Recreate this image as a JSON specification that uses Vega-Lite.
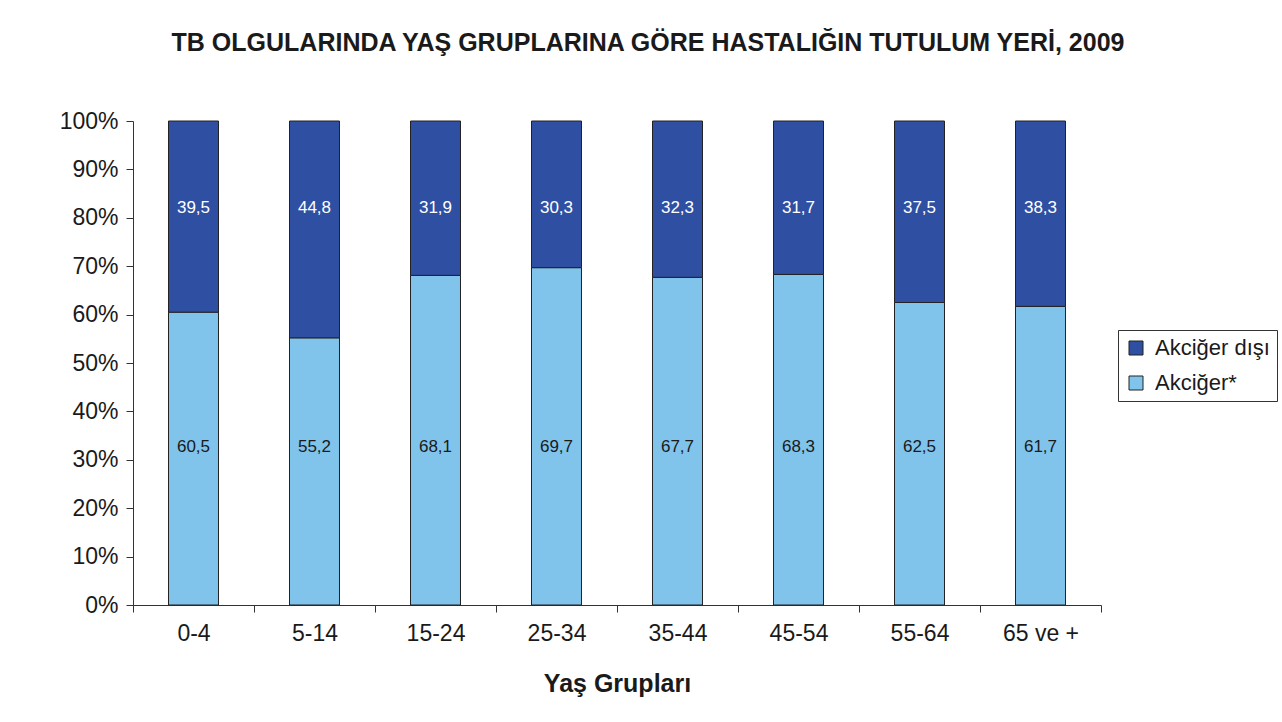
{
  "$schema": "https://vega.github.io/schema/vega-lite/v6.json",
  "autosize": "none",
  "width": 968,
  "height": 484,
  "padding": {"left": 133, "top": 121, "right": 181, "bottom": 117},
  "background": "white",
  "config": {
    "font": "Liberation Sans",
    "view": {"stroke": null},
    "locale": {"number": {"decimal": ",", "thousands": ".", "grouping": [3], "currency": ["", " TL"]}}
  },
  "title": {
    "text": "TB OLGULARINDA YAŞ GRUPLARINA GÖRE HASTALIĞIN TUTULUM YERİ, 2009",
    "font": "Liberation Sans",
    "fontSize": 25,
    "fontWeight": "bold",
    "color": "#1a1a1a",
    "anchor": "middle",
    "frame": "group",
    "dx": 31,
    "offset": 54
  },
  "data": {
    "values": [
      {"grup": "0-4", "tur": "Akciğer*", "deger": 60.5},
      {"grup": "0-4", "tur": "Akciğer dışı", "deger": 39.5},
      {"grup": "5-14", "tur": "Akciğer*", "deger": 55.2},
      {"grup": "5-14", "tur": "Akciğer dışı", "deger": 44.8},
      {"grup": "15-24", "tur": "Akciğer*", "deger": 68.1},
      {"grup": "15-24", "tur": "Akciğer dışı", "deger": 31.9},
      {"grup": "25-34", "tur": "Akciğer*", "deger": 69.7},
      {"grup": "25-34", "tur": "Akciğer dışı", "deger": 30.3},
      {"grup": "35-44", "tur": "Akciğer*", "deger": 67.7},
      {"grup": "35-44", "tur": "Akciğer dışı", "deger": 32.3},
      {"grup": "45-54", "tur": "Akciğer*", "deger": 68.3},
      {"grup": "45-54", "tur": "Akciğer dışı", "deger": 31.7},
      {"grup": "55-64", "tur": "Akciğer*", "deger": 62.5},
      {"grup": "55-64", "tur": "Akciğer dışı", "deger": 37.5},
      {"grup": "65 ve +", "tur": "Akciğer*", "deger": 61.7},
      {"grup": "65 ve +", "tur": "Akciğer dışı", "deger": 38.3}
    ]
  },
  "encoding": {
    "x": {
      "field": "grup",
      "type": "nominal",
      "sort": ["0-4", "5-14", "15-24", "25-34", "35-44", "45-54", "55-64", "65 ve +"],
      "scale": {"paddingInner": 0, "paddingOuter": 0},
      "axis": {
        "title": "Yaş Grupları",
        "titleFont": "Liberation Sans",
        "titleFontSize": 25,
        "titleFontWeight": "bold",
        "titleColor": "#1a1a1a",
        "titlePadding": 26,
        "labelAngle": 0,
        "labelFontSize": 23,
        "labelColor": "#1a1a1a",
        "labelPadding": 10,
        "tickBand": "extent",
        "tickSize": 7,
        "tickColor": "#333333",
        "domainColor": "#333333",
        "grid": false
      }
    }
  },
  "layer": [
    {
      "transform": [
        {"stack": "deger", "groupby": ["grup"], "sort": [{"field": "tur", "order": "descending"}], "as": ["y0", "y1"]}
      ],
      "mark": {"type": "bar", "width": {"band": 0.413}, "stroke": "#222222", "strokeWidth": 1},
      "encoding": {
        "y": {
          "field": "y0",
          "type": "quantitative",
          "scale": {"domain": [0, 100], "nice": false},
          "axis": {
            "title": null,
            "values": [0, 10, 20, 30, 40, 50, 60, 70, 80, 90, 100],
            "labelExpr": "datum.value + '%'",
            "labelFontSize": 23,
            "labelColor": "#1a1a1a",
            "labelPadding": 8,
            "tickSize": 7,
            "tickColor": "#333333",
            "domainColor": "#333333",
            "grid": false
          }
        },
        "y2": {"field": "y1"},
        "color": {
          "field": "tur",
          "type": "nominal",
          "scale": {"domain": ["Akciğer dışı", "Akciğer*"], "range": ["#2F4FA2", "#80C4EC"]},
          "legend": {
            "title": null,
            "orient": "none",
            "legendX": 985,
            "legendY": 209,
            "direction": "vertical",
            "strokeColor": "#333333",
            "padding": 7,
            "symbolType": "square",
            "symbolSize": 196,
            "symbolStrokeColor": "#222222",
            "symbolStrokeWidth": 1,
            "symbolOpacity": 1,
            "labelOffset": 8,
            "labelFontSize": 22,
            "labelColor": "#1a1a1a",
            "labelLimit": 300,
            "rowPadding": 13
          }
        }
      }
    },
    {
      "transform": [{"filter": "datum.tur === 'Akciğer dışı'"}],
      "mark": {"type": "text", "fontSize": 17, "baseline": "middle", "color": "white"},
      "encoding": {
        "y": {"datum": 82, "type": "quantitative"},
        "text": {"field": "deger", "type": "quantitative", "format": ".1f"}
      }
    },
    {
      "transform": [{"filter": "datum.tur === 'Akciğer*'"}],
      "mark": {"type": "text", "fontSize": 17, "baseline": "middle", "color": "#1a1a1a"},
      "encoding": {
        "y": {"datum": 32.6, "type": "quantitative"},
        "text": {"field": "deger", "type": "quantitative", "format": ".1f"}
      }
    }
  ]
}
